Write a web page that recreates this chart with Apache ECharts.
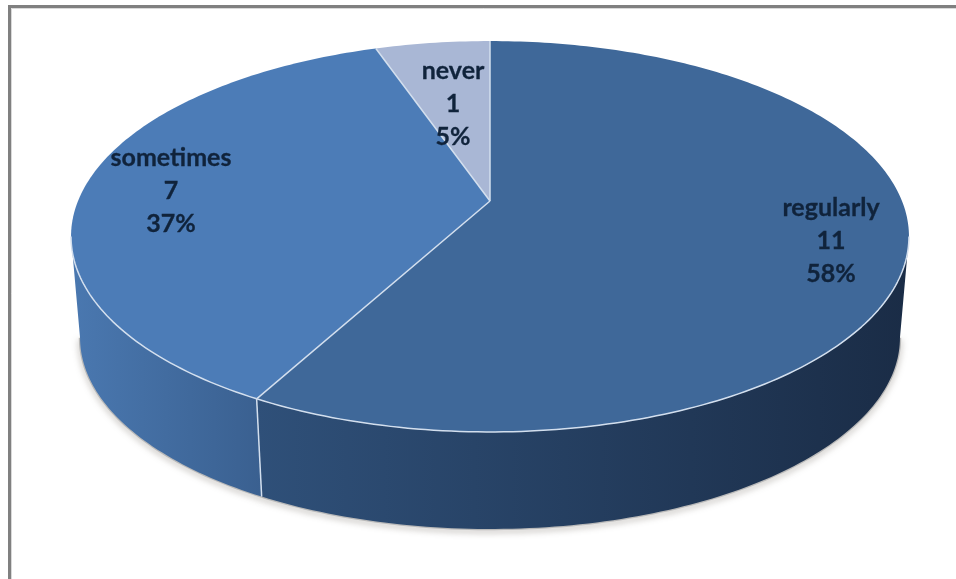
<!DOCTYPE html>
<html>
<head>
<meta charset="utf-8">
<style>html,body{margin:0;padding:0;background:#fff}#chart{width:956px;height:579px}</style>
<script src="https://cdn.jsdelivr.net/npm/echarts@6/dist/echarts.min.js"></script>
</head>
<body>
<div id="chart"></div>
<script>
const categories = ['regularly', 'sometimes', 'never'];
const responses = [11, 7, 1];

const topColors = ['#3f6899', '#4c7cb7', '#a9b7d5'];
const sideStops = [
  ['#2f5079', '#1a2c46'],
  ['#4a78b0', '#3a6090']
];
const labelCentres = [[831, 241], [171, 191], [453, 104]];

// Tilted-disc projection: a point on the unit circle seen in perspective.
const apex = { x: 490, y: 201 };
const persp = 0.1816, spreadX = 412, spreadY = 189;
const baseApexY = 303, baseScale = 0.9785;
// Fractions of the turn between which the disc's wall faces the viewer.
const wallFrom = 0.279, wallTo = 0.721;
const total = responses.reduce((a, b) => a + b, 0);

function rim(frac) {
  const t = frac * 2 * Math.PI;
  const u = Math.sin(t), v = Math.cos(t), w = 1 + persp * v;
  return [apex.x + spreadX * u / w, apex.y - spreadY * v / w];
}
function baseOf(p) {
  return [apex.x + baseScale * (p[0] - apex.x), baseApexY + baseScale * (p[1] - apex.y)];
}
function arc(f0, f1, map) {
  const pts = [];
  const n = Math.max(4, Math.ceil((f1 - f0) * 360));
  for (let i = 0; i <= n; i++) {
    const p = rim(f0 + (f1 - f0) * i / n);
    pts.push(map ? map(p) : p);
  }
  return pts;
}
function startFraction(idx) {
  let s = 0;
  for (let i = 0; i < idx; i++) s += responses[i];
  return s / total;
}

const seriesData = categories.map((name, i) => [i, responses[i]]);
const edgeStyle = { stroke: '#d3dfee', lineWidth: 1.5, fill: null, lineJoin: 'round' };

function renderSide(params, api) {
  const i = api.value(0);
  const empty = { type: 'group', children: [] };
  const f0 = Math.max(startFraction(i), wallFrom);
  const f1 = Math.min(startFraction(i) + api.value(1) / total, wallTo);
  if (f1 <= f0) return empty;
  const upper = arc(f0, f1), lower = arc(f0, f1, baseOf);
  const xs = upper.concat(lower).map(p => p[0]);
  const stops = sideStops[i];
  const fill = new echarts.graphic.LinearGradient(Math.min.apply(null, xs), 0, Math.max.apply(null, xs), 0, [
    { offset: 0, color: stops[0] }, { offset: 1, color: stops[1] }
  ], true);
  return {
    type: 'group',
    children: [
      { type: 'polyline', shape: { points: lower }, silent: true,
        style: { stroke: '#b9b9b9', lineWidth: 2.5, fill: null, shadowBlur: 6, shadowColor: 'rgba(90,80,70,0.55)', shadowOffsetY: 2 } },
      { type: 'polygon', shape: { points: upper.concat(lower.slice().reverse()) }, style: { fill: fill } }
    ]
  };
}
function renderSeam(params, api) {
  const i = api.value(0);
  if (i !== 1) return { type: 'group', children: [] };
  const p = rim(startFraction(i));
  return { type: 'line', shape: { x1: p[0], y1: p[1], x2: baseOf(p)[0], y2: baseOf(p)[1] }, style: edgeStyle };
}
function renderTop(params, api) {
  const i = api.value(0);
  const f0 = startFraction(i), f1 = f0 + api.value(1) / total;
  const pts = [[apex.x, apex.y]].concat(arc(f0, f1));
  return { type: 'polygon', shape: { points: pts }, style: { fill: topColors[i] } };
}
// Light edges: every spoke plus the part of the rim in front of the wall.
function renderEdges(params, api) {
  const i = api.value(0);
  const f0 = startFraction(i);
  const children = [{ type: 'line',
    shape: { x1: apex.x, y1: apex.y, x2: rim(f0)[0], y2: rim(f0)[1] }, style: edgeStyle }];
  const a = Math.max(f0, wallFrom), b = Math.min(f0 + api.value(1) / total, wallTo);
  if (b > a) children.push({ type: 'polyline', shape: { points: arc(a, b) }, style: edgeStyle });
  return { type: 'group', children: children };
}
function renderLabel(params, api) {
  const i = api.value(0);
  const pct = Math.round(api.value(1) / total * 100);
  const c = labelCentres[i];
  return { type: 'text', x: c[0], y: c[1], style: {
    text: categories[i] + '\n' + api.value(1) + '\n' + pct + '%',
    font: 'bold 25px Lato, "Open Sans", sans-serif',
    lineHeight: 33, align: 'center', verticalAlign: 'middle', fill: '#10233b',
    stroke: '#10233b', lineWidth: 0.3
  } };
}

const chart = echarts.init(document.getElementById('chart'), null, { renderer: 'canvas' });
chart.setOption({
  animation: false,
  backgroundColor: '#ffffff',
  graphic: [
    { type: 'polyline', shape: { points: [[11.5, 579], [11.5, 8.5], [956, 8.5]] },
      style: { stroke: '#d9d9d9', lineWidth: 1, fill: null } },
    { type: 'polyline', shape: { points: [[9.5, 579], [9.5, 6.5], [956, 6.5]] },
      style: { stroke: '#808080', lineWidth: 3, fill: null } }
  ],
  series: [
    { type: 'custom', coordinateSystem: 'none', z: 2, data: seriesData, renderItem: renderSide },
    { type: 'custom', coordinateSystem: 'none', z: 3, data: seriesData, renderItem: renderSeam },
    { type: 'custom', coordinateSystem: 'none', z: 4, data: seriesData, renderItem: renderTop },
    { type: 'custom', coordinateSystem: 'none', z: 5, data: seriesData, renderItem: renderEdges },
    { type: 'custom', coordinateSystem: 'none', z: 6, data: seriesData, renderItem: renderLabel }
  ]
});
</script>
</body>
</html>
